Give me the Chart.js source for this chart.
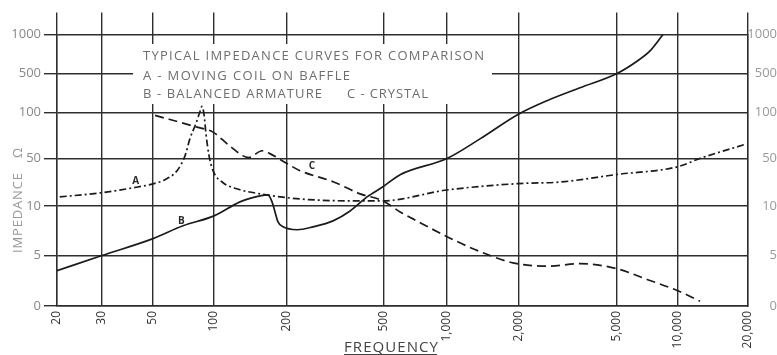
<!DOCTYPE html>
<html>
<head>
<meta charset="utf-8">
<script src="https://cdn.jsdelivr.net/npm/chart.js@4.4.0/dist/chart.umd.min.js"></script>
<style>
  html, body { margin: 0; padding: 0; background: #fff; }
  #wrap { position: relative; width: 777px; height: 355px; }
</style>
</head>
<body>
<div id="wrap"><canvas id="chart" width="777" height="355"></canvas></div>
<script>
// grid lines of the printed chart
const FREQ_TICKS = [20, 30, 50, 100, 200, 500, 1000, 2000, 5000, 10000, 20000];
const FREQ_LABELS = ['20', '30', '50', '100', '200', '500', '1,000', '2,000', '5,000', '10,000', '20,000'];
const OHM_TICKS = [0, 5, 10, 50, 100, 500, 1000];
const OHM_LABELS = ['0', '5', '10', '50', '100', '500', '1000'];

// A - moving coil on baffle
const A_FREQ = [20.5, 29.5, 40.9, 50, 57.3, 65.7, 72, 76, 81.5, 85.3, 87.2, 89.3, 91.3, 94.5, 98.9, 109, 124, 155, 226, 363, 490, 1000, 2000, 2930, 5000, 10000, 12400, 19400];
const A_OHMS = [13.6, 15.6, 18.5, 21.2, 24.4, 33.1, 52.2, 67.2, 85.0, 104, 129, 97, 72.3, 52.2, 33.1, 22.0, 17.9, 15.1, 12.7, 11.9, 11.9, 17.2, 21.4, 22.5, 29.1, 37.9, 50, 61.8];

// B - balanced armature
const B_FREQ = [20, 30, 50, 70.3, 100, 128, 155, 167, 173.5, 178.5, 183.6, 192.6, 220, 256, 309, 363, 426, 495, 597, 1000, 1374, 1980, 2600, 3537, 5000, 6275, 7275, 8432];
const B_OHMS = [3.5, 5.0, 6.33, 7.58, 8.71, 11.5, 14.1, 14.6, 11.5, 9.2, 8.01, 7.47, 7.17, 7.47, 8.12, 9.33, 13.6, 19.2, 28.9, 50, 67.2, 97.1, 163, 277, 500, 622, 747, 1000];

// C - crystal
const C_FREQ = [51.2, 82.4, 98.9, 116, 139, 158, 170, 200, 226, 309, 399, 495, 597, 688, 1000, 1374, 1888, 2600, 3537, 5000, 7031, 9890, 12430];
const C_OHMS = [95.7, 80.2, 74.4, 60.5, 50.7, 56.2, 53.8, 42.1, 33.1, 22.8, 15.1, 11.9, 9.2, 8.35, 6.51, 5.28, 4.27, 3.94, 4.19, 3.69, 2.63, 1.54, 0.48];

// letters written next to the curves
const CURVE_TAGS = [
    { text: 'A', freq: 42, ohms: 23 },
    { text: 'B', freq: 69, ohms: 8.1 },
    { text: 'C', freq: 253, ohms: 39 }
];

// the grid is hand ruled, so the lines are not evenly spaced:
// offset of each grid line from the first one (px)
const FREQ_GRID = [0, 45, 96, 157, 230, 327, 390, 462, 560, 621, 691];
const OHM_GRID = [0, 50.5, 100, 147.5, 193.5, 232.5, 271.5];

const GRID_COLOR = '#2e2e2e';
const INK = '#1b1b1b';

/**
 * Map a value onto the ruled grid: log between lines, linear from zero
 */
function toGrid(v, ticks, grid) {
    let i = 0;
    while (i < ticks.length - 2 && v > ticks[i + 1]) i++;
    const a = ticks[i], b = ticks[i + 1];
    const t = a === 0 ? v / b : Math.log(v / a) / Math.log(b / a);
    return grid[i] + t * (grid[i + 1] - grid[i]);
}

function series(freq, ohms) {
    return freq.map((f, i) => ({
        x: toGrid(f, FREQ_TICKS, FREQ_GRID),
        y: toGrid(ohms[i], OHM_TICKS, OHM_GRID)
    }));
}

function spacedText(ctx, text, x, y, width) {
    ctx.letterSpacing = '0px';
    const w = ctx.measureText(text).width;
    ctx.letterSpacing = ((width - w) / (text.length - 1)) + 'px';
    ctx.fillText(text, x, y);
    ctx.letterSpacing = '0px';
}

const freqTicks = (s) => { s.ticks = FREQ_GRID.map(v => ({ value: v })); };
const ohmTicks = (s) => { s.ticks = OHM_GRID.map(v => ({ value: v })); };

// title panel, axis titles and curve letters
const decor = {
    id: 'decor',
    beforeDatasetsDraw(chart) {
        const ctx = chart.ctx;
        ctx.save();
        ctx.fillStyle = '#fff';
        ctx.fillRect(133, 44, 359, 60);
        ctx.fillStyle = '#6e6e6e';
        ctx.font = '13px "Open Sans"';
        ctx.textBaseline = 'alphabetic';
        spacedText(ctx, 'TYPICAL IMPEDANCE CURVES FOR COMPARISON', 143, 60, 341);
        spacedText(ctx, 'A - MOVING COIL ON BAFFLE', 143, 80, 207);
        spacedText(ctx, 'B - BALANCED ARMATURE', 143, 98, 179);
        spacedText(ctx, 'C - CRYSTAL', 347, 98, 81);
        ctx.restore();
    },
    afterDraw(chart) {
        const ctx = chart.ctx;
        const { x, y } = chart.scales;
        ctx.save();

        // x axis title, underlined
        ctx.fillStyle = '#444';
        ctx.font = '15px "Open Sans"';
        spacedText(ctx, 'FREQUENCY', 344, 352, 94);
        ctx.fillRect(344, 354, 93, 1.2);

        // y axis title, reading upwards
        ctx.fillStyle = '#999';
        ctx.font = '13px "Open Sans"';
        ctx.translate(22, 253);
        ctx.rotate(-Math.PI / 2);
        spacedText(ctx, 'IMPEDANCE', 0, 0, 80);
        ctx.fillText('Ω', 95, 0);
        ctx.setTransform(1, 0, 0, 1, 0, 0);

        ctx.fillStyle = '#2a2a2a';
        ctx.font = 'bold 10px "Open Sans"';
        ctx.textAlign = 'center';
        ctx.textBaseline = 'middle';
        CURVE_TAGS.forEach(t => {
            ctx.fillText(t.text,
                x.getPixelForValue(toGrid(t.freq, FREQ_TICKS, FREQ_GRID)),
                y.getPixelForValue(toGrid(t.ohms, OHM_TICKS, OHM_GRID)));
        });
        ctx.restore();
    }
};

Chart.defaults.font.family = '"Open Sans"';

const lineStyle = {
    borderColor: INK,
    borderWidth: 1.7,
    pointRadius: 0,
    fill: false,
    cubicInterpolationMode: 'monotone'
};

new Chart(document.getElementById('chart'), {
    type: 'line',
    data: {
        datasets: [
            { ...lineStyle, label: 'A - Moving coil on baffle', data: series(A_FREQ, A_OHMS), borderDash: [7, 3, 2, 3] },
            { ...lineStyle, label: 'B - Balanced armature', data: series(B_FREQ, B_OHMS) },
            { ...lineStyle, label: 'C - Crystal', data: series(C_FREQ, C_OHMS), borderDash: [9, 5] }
        ]
    },
    options: {
        responsive: false,
        animation: false,
        devicePixelRatio: 1,
        layout: { padding: 0 },
        plugins: {
            legend: { display: false },
            tooltip: { enabled: false }
        },
        scales: {
            x: {
                type: 'linear',
                position: 'bottom',
                min: 0,
                max: FREQ_GRID[FREQ_GRID.length - 1],
                afterBuildTicks: freqTicks,
                afterFit: (s) => { s.height = 49; },
                ticks: {
                    callback: (v, i) => FREQ_LABELS[i],
                    autoSkip: false,
                    minRotation: 90,
                    maxRotation: 90,
                    padding: 5,
                    color: '#333',
                    font: { size: 12 }
                },
                grid: { color: GRID_COLOR, lineWidth: 1.4, drawTicks: false },
                border: { color: GRID_COLOR, width: 1.4 }
            },
            xTop: {
                type: 'linear',
                position: 'top',
                min: 0,
                max: FREQ_GRID[FREQ_GRID.length - 1],
                afterBuildTicks: freqTicks,
                afterFit: (s) => { s.height = 34.5; },
                ticks: { display: false },
                grid: { color: GRID_COLOR, lineWidth: 1.4, drawOnChartArea: false, tickLength: 22 },
                border: { display: false }
            },
            y: {
                type: 'linear',
                position: 'left',
                min: 0,
                max: OHM_GRID[OHM_GRID.length - 1],
                afterBuildTicks: ohmTicks,
                afterFit: (s) => { s.width = 57; },
                ticks: {
                    callback: (v, i) => OHM_LABELS[i],
                    autoSkip: false,
                    padding: 3,
                    color: '#888',
                    font: { size: 13 }
                },
                grid: { color: GRID_COLOR, lineWidth: 1.4, tickLength: 13 },
                border: { color: GRID_COLOR, width: 1.4 }
            },
            yR: {
                type: 'linear',
                position: 'right',
                min: 0,
                max: OHM_GRID[OHM_GRID.length - 1],
                afterBuildTicks: ohmTicks,
                afterFit: (s) => { s.width = 29; },
                ticks: {
                    callback: (v, i) => OHM_LABELS[i],
                    autoSkip: false,
                    crossAlign: 'far',
                    color: '#999',
                    font: { size: 13 }
                },
                grid: { drawOnChartArea: false, drawTicks: false },
                border: { color: GRID_COLOR, width: 1.4 }
            }
        }
    },
    plugins: [decor]
});
</script>
</body>
</html>
